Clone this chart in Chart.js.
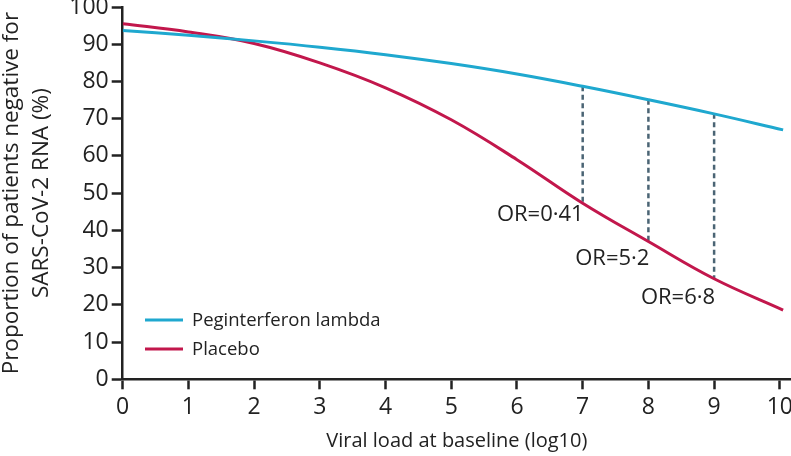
<!DOCTYPE html>
<html><head><meta charset="utf-8">
<script src="https://cdn.jsdelivr.net/npm/chart.js@4.4.1/dist/chart.umd.min.js"></script>
<style>html,body{margin:0;padding:0;background:#fff;}#wrap{width:791px;height:456px;}</style>
</head><body><div id="wrap"><canvas id="c" width="791" height="456"></canvas></div>
<script>
const viralLoad = [0, 1, 2, 3, 4, 5, 6, 7, 8, 9, 10.05];
const peginterferon = [93.7, 92.4, 90.9, 89.2, 87.2, 84.8, 82.0, 78.7, 75.1, 71.3, 67.0];
const placebo = [95.5, 93.3, 90.2, 85.0, 78.3, 69.7, 59.0, 47.3, 37.0, 27.0, 18.6];
const orX = [7, 8, 9];
const orTop = [78.7, 75.1, 71.3];
const orBottom = [47.3, 37.0, 27.0];
const orLabels = ['OR=0·41', 'OR=5·2', 'OR=6·8'];
const orLabelY = [44.1, 32.5, 21.8];
const seriesNames = ['Peginterferon lambda', 'Placebo'];
const xTitle = 'Viral load at baseline (log10)';
const yTitle = ['Proportion of patients negative for', 'SARS-CoV-2 RNA (%)'];

const BLUE = '#1fa8cf', RED = '#c2174c', DASH = '#4a6474', INK = '#222';
const FONT = "'Open Sans', sans-serif";

const toPts = (ys) => viralLoad.map((x, i) => ({x, y: ys[i]}));
const datasets = [
  {label: seriesNames[0], data: toPts(peginterferon), borderColor: BLUE, borderWidth: 3, pointRadius: 0, tension: 0.4, fill: false},
  {label: seriesNames[1], data: toPts(placebo), borderColor: RED, borderWidth: 3, pointRadius: 0, tension: 0.4, fill: false}
];
orX.forEach((x, i) => datasets.push({
  label: 'or' + i, data: [{x, y: orTop[i]}, {x, y: orBottom[i]}],
  borderColor: DASH, borderWidth: 2.5, borderDash: [5, 3.5], pointRadius: 0, fill: false
}));

const overlay = {
  id: 'overlay',
  afterDatasetsDraw(chart) {
    const {ctx, scales: {x, y}} = chart;
    ctx.save();
    ctx.fillStyle = INK;
    ctx.font = "22px " + FONT;
    ctx.textAlign = 'right';
    ctx.textBaseline = 'middle';
    orLabels.forEach((t, i) => ctx.fillText(t, x.getPixelForValue(orX[i]) + 1, y.getPixelForValue(orLabelY[i])));
    // legend
    const rows = [320, 349];
    ctx.textAlign = 'left';
    ctx.font = "18.5px " + FONT;
    [0, 1].forEach(i => {
      const ds = chart.data.datasets[i];
      ctx.strokeStyle = ds.borderColor;
      ctx.lineWidth = 3;
      ctx.beginPath(); ctx.moveTo(145, rows[i]); ctx.lineTo(183, rows[i]); ctx.stroke();
      ctx.fillStyle = INK;
      ctx.fillText(ds.label, 192, rows[i] + 1);
    });
    ctx.restore();
  }
};

new Chart(document.getElementById('c'), {
  type: 'line',
  data: {datasets},
  plugins: [overlay],
  options: {
    responsive: false, animation: false,
    layout: {padding: {top: 7, right: 0, bottom: 0, left: 0}},
    plugins: {legend: {display: false}, tooltip: {enabled: false}},
    scales: {
      x: {
        type: 'linear', min: 0, max: 10.17,
        afterFit(s) { s.height = 76.7; s.paddingLeft = 0; s.paddingRight = 0; },
        ticks: {stepSize: 1, includeBounds: false, color: INK, font: {family: FONT, size: 23}, padding: 4},
        grid: {display: true, drawOnChartArea: false, drawTicks: true, tickLength: 10, tickWidth: 2.5, tickColor: INK},
        border: {display: true, color: INK, width: 2.5},
        title: {display: true, text: xTitle, color: INK, font: {family: FONT, size: 20}, padding: {top: 0, bottom: 3}}
      },
      y: {
        type: 'linear', min: 0, max: 100,
        afterFit(s) { s.width = 122.7; s.paddingTop = 0; s.paddingBottom = 0; },
        ticks: {stepSize: 10, color: INK, font: {family: FONT, size: 23, lineHeight: 0.6}, padding: 3},
        grid: {display: true, drawOnChartArea: false, drawTicks: true, tickLength: 11, tickWidth: 2.5, tickColor: INK},
        border: {display: true, color: INK, width: 2.5},
        title: {display: true, text: yTitle, color: INK, font: {family: FONT, size: 22.5, lineHeight: 1.31}, padding: {top: -3, bottom: 0}}
      }
    }
  }
});
</script></body></html>
